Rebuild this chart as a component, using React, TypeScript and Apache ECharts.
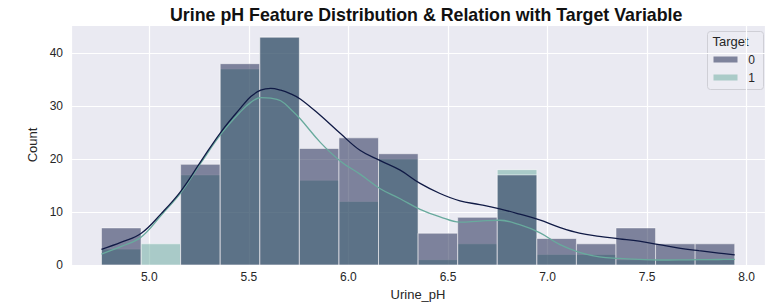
import React, { useEffect, useRef } from "react";
import * as echarts from "echarts";

const binEdges = [4.76, 4.95875, 5.1575, 5.35625, 5.555, 5.75375, 5.9525, 6.15125, 6.35, 6.54875, 6.7475, 6.94625, 7.145, 7.34375, 7.5425, 7.74125, 7.94];
const countTarget0 = [7, 0, 19, 38, 43, 22, 24, 21, 6, 9, 17, 5, 4, 7, 4, 4];
const countTarget1 = [3, 4, 17, 37, 43, 16, 12, 20, 1, 4, 18, 2, 2, 1, 1, 1];

const kdeX = [4.76, 4.86, 4.96, 5.06, 5.16, 5.26, 5.36, 5.46, 5.51, 5.56, 5.61, 5.66, 5.71, 5.76, 5.86, 5.96, 6.06, 6.16, 6.26, 6.36, 6.46, 6.56, 6.66, 6.76, 6.86, 6.96, 7.06, 7.16, 7.26, 7.36, 7.46, 7.56, 7.66, 7.76, 7.86, 7.94];
const kdeTarget0 = [2.95, 4.3, 6.0, 9.7, 14.0, 19.6, 25.1, 29.7, 31.8, 33.0, 33.35, 33.0, 32.3, 31.3, 28.2, 24.8, 21.6, 19.7, 17.9, 15.4, 13.5, 12.1, 11.4, 10.6, 9.6, 8.5, 7.1, 6.0, 5.4, 4.95, 4.5, 3.85, 3.2, 2.7, 2.25, 1.9];
const kdeTarget1 = [2.07, 3.5, 5.3, 9.4, 13.7, 19.3, 24.7, 29.0, 30.7, 31.6, 31.5, 31.0, 29.4, 27.5, 23.1, 19.6, 17.1, 14.4, 12.5, 10.5, 9.1, 8.1, 8.3, 8.45, 7.6, 6.1, 3.9, 2.4, 1.55, 1.25, 1.06, 0.94, 0.95, 1.0, 1.04, 1.07];

const seriesNames = ["0", "1"];
const titleText = "Urine pH Feature Distribution & Relation with Target Variable";

const C0 = "#101a45";
const C1 = "#68aa9d";
const BG = "#eaeaf2";
const TXT = "#262626";
const FONT = "Liberation Sans, Arial, sans-serif";

function binData(counts: number[]) {
  return counts.map((c, i) => [binEdges[i], binEdges[i + 1], c]);
}

function makeRender(color: string) {
  return (params: any, api: any) => {
    const x0 = api.value(0);
    const x1 = api.value(1);
    const c = api.value(2);
    if (!c) return null;
    const p0 = api.coord([x0, c]);
    const p1 = api.coord([x1, 0]);
    return {
      type: "rect",
      shape: { x: p0[0], y: p0[1], width: p1[0] - p0[0], height: p1[1] - p0[1] },
      style: { fill: color, stroke: "#ffffff", lineWidth: 1, opacity: 0.5 },
    };
  };
}

export default function App() {
  const ref = useRef<HTMLDivElement>(null);
  useEffect(() => {
    if (!ref.current) return;
    const chart = echarts.init(ref.current, null, { renderer: "svg" });
    chart.setOption({
      animation: false,
      backgroundColor: "#ffffff",
      textStyle: { fontFamily: FONT },
      title: {
        text: titleText,
        left: 165,
        top: 1,
        textStyle: { fontFamily: FONT, fontSize: 17.8, fontWeight: "bold", color: "#111111" },
      },
      grid: {
        left: 71,
        right: 9,
        top: 25,
        bottom: 42,
        show: true,
        backgroundColor: BG,
        borderWidth: 0,
        outerBoundsMode: "none",
        containLabel: false,
      },
      xAxis: {
        type: "value",
        min: 4.607,
        max: 8.092,
        splitNumber: 7,
        name: "Urine_pH",
        nameLocation: "middle",
        nameGap: 21,
        nameTextStyle: { fontSize: 13, color: TXT, fontFamily: FONT },
        axisLine: { show: false },
        axisTick: { show: false },
        axisLabel: {
          color: TXT,
          fontSize: 12,
          margin: 6,
          showMinLabel: false,
          showMaxLabel: false,
          formatter: (v: number) => v.toFixed(1),
        },
        splitLine: { show: true, lineStyle: { color: "#ffffff", width: 1.2 } },
      },
      yAxis: {
        type: "value",
        min: 0,
        max: 45.3,
        interval: 10,
        name: "Count",
        nameLocation: "middle",
        nameGap: 27,
        nameTextStyle: { fontSize: 13, color: TXT, fontFamily: FONT },
        axisLine: { show: false },
        axisTick: { show: false },
        axisLabel: {
          color: TXT,
          fontSize: 12,
          margin: 8,
          showMaxLabel: false,
        },
        splitLine: { show: true, lineStyle: { color: "#ffffff", width: 1.2 } },
      },
      series: [
        {
          name: seriesNames[1],
          type: "custom",
          renderItem: makeRender(C1),
          encode: { x: [0, 1], y: 2 },
          data: binData(countTarget1),
          z: 2,
        },
        {
          name: seriesNames[0],
          type: "custom",
          renderItem: makeRender(C0),
          encode: { x: [0, 1], y: 2 },
          data: binData(countTarget0),
          z: 3,
        },
        {
          name: "kde1",
          type: "line",
          data: kdeX.map((x, i) => [x, kdeTarget1[i]]),
          showSymbol: false,
          smooth: 0.4,
          lineStyle: { color: C1, width: 1.3 },
          z: 4,
        },
        {
          name: "kde0",
          type: "line",
          data: kdeX.map((x, i) => [x, kdeTarget0[i]]),
          showSymbol: false,
          smooth: 0.4,
          lineStyle: { color: C0, width: 1.3 },
          z: 5,
        },
      ],
      graphic: [
        {
          type: "group",
          left: 707,
          top: 31,
          children: [
            {
              type: "rect",
              shape: { x: 0, y: 0, width: 56, height: 58, r: 3 },
              style: { fill: "#ececf3", stroke: "#cfcfd6", lineWidth: 1 },
            },
            {
              type: "text",
              x: 23,
              y: 10,
              style: { text: "Target", fontSize: 13, fill: TXT, fontFamily: FONT, align: "center", verticalAlign: "middle" },
            },
            {
              type: "rect",
              shape: { x: 6, y: 25, width: 24, height: 6 },
              style: { fill: C0, opacity: 0.5 },
            },
            {
              type: "text",
              x: 44,
              y: 28,
              style: { text: seriesNames[0], fontSize: 12, fill: TXT, fontFamily: FONT, align: "center", verticalAlign: "middle" },
            },
            {
              type: "rect",
              shape: { x: 6, y: 43, width: 24, height: 6 },
              style: { fill: C1, opacity: 0.5 },
            },
            {
              type: "text",
              x: 44,
              y: 46,
              style: { text: seriesNames[1], fontSize: 12, fill: TXT, fontFamily: FONT, align: "center", verticalAlign: "middle" },
            },
          ],
        },
      ],
    });
    return () => chart.dispose();
  }, []);
  return <div ref={ref} style={{ position: "fixed", left: 0, top: 0, width: 774, height: 307 }} />;
}
